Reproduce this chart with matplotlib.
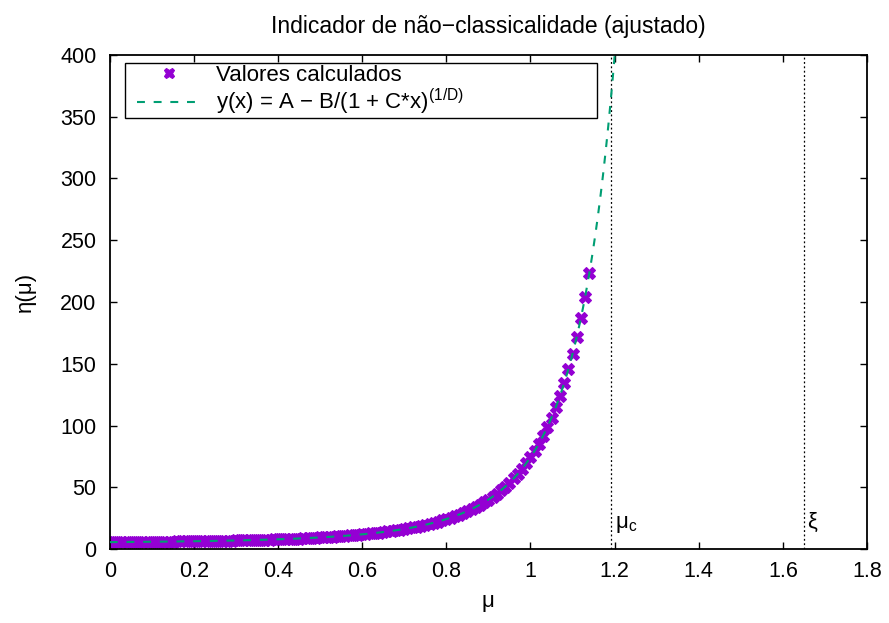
import numpy as np
import matplotlib.pyplot as plt
import matplotlib.patches as patches

plt.rcParams['font.family'] = ['Liberation Sans', 'DejaVu Sans']
plt.rcParams['mathtext.fontset'] = 'custom'
plt.rcParams['mathtext.rm'] = 'Liberation Sans'
plt.rcParams['mathtext.it'] = 'Liberation Sans'

# calculated values, mu = 0.00 ... 1.14 (step 0.01)
mu = np.round(np.arange(0, 115) * 0.01, 2)
eta = [5.6, 5.6, 5.6, 5.6, 5.7, 5.7, 5.7, 5.8, 5.8, 5.8,
       5.9, 5.9, 5.9, 6.0, 6.0, 6.0, 6.1, 6.1, 6.2, 6.2,
       6.3, 6.3, 6.4, 6.4, 6.5, 6.6, 6.6, 6.7, 6.8, 6.8,
       6.9, 7.0, 7.1, 7.1, 7.2, 7.3, 7.4, 7.5, 7.6, 7.7,
       7.9, 8.0, 8.1, 8.2, 8.4, 8.5, 8.7, 8.8, 9.0, 9.2,
       9.4, 9.6, 9.8, 10.0, 10.2, 10.5, 10.7, 11.0, 11.3, 11.6,
       11.9, 12.2, 12.6, 12.9, 13.3, 13.7, 14.2, 14.7, 15.1, 15.7,
       16.2, 16.8, 17.5, 18.1, 18.8, 19.6, 20.4, 21.3, 22.2, 23.2,
       24.2, 25.4, 26.6, 27.9, 29.2, 30.7, 32.3, 34.1, 35.9, 37.9,
       40.0, 42.4, 44.9, 47.6, 50.5, 53.7, 57.1, 60.9, 65.0, 69.4,
       74.3, 79.6, 85.3, 91.7, 98.6, 106.2, 114.6, 123.9, 134.1, 145.4,
       157.8, 171.7, 187.1, 204.2, 223.3]

# fit parameters for y(x) = A - B/(1 + C*x)^(1/D)
A = 4.7402
B = -0.8285
C = -0.6026
D = 0.2083

mu_c = 1.191
xi = 1.651

fig = plt.figure(figsize=(8.89, 6.23), dpi=100)
ax = fig.add_axes([109.8 / 889, 1 - 549 / 623, 757.2 / 889, 494 / 623])

# fitted curve
xf = np.linspace(0, 1.8, 2000)
base = 1 + C * xf
yf = np.full_like(xf, np.nan)
ok = base > 0
yf[ok] = A - B / base[ok] ** (1 / D)
ax.plot(xf, yf, color='#009e73', lw=1.5, dashes=(3.8, 4.2), zorder=3,
        label=r'y(x) = A − B/(1 + C*x)$^{\mathrm{(1/D)}}$')

ax.plot(mu, eta, 'X', color='#9400d3', ms=8.5, mew=0.8, mec='#9400d3', zorder=2,
        label='Valores calculados')

ax.axvline(mu_c, color='black', lw=0.9, ls=(0, (1.5, 2)), zorder=1)
ax.axvline(xi, color='black', lw=0.9, ls=(0, (1.5, 2)), zorder=1)
ax.text(mu_c + 0.009, 17, r'$\mathregular{μ_c}$', fontsize=16, ha='left', va='baseline')
ax.text(xi + 0.007, 17, 'ξ', fontsize=16, ha='left', va='baseline')

ax.set_xlim(0, 1.8)
ax.set_ylim(0, 400)
ax.set_xticks(np.arange(0, 1.81, 0.2))
ax.set_xticklabels(['0', '0.2', '0.4', '0.6', '0.8', '1', '1.2', '1.4', '1.6', '1.8'])
ax.set_yticks(np.arange(0, 401, 50))
ax.tick_params(direction='in', length=5, width=1, labelsize=15.5, top=True, right=True)
ax.tick_params(axis='x', pad=8.5)
ax.tick_params(axis='y', pad=9.5)
for s in ax.spines.values():
    s.set_linewidth(1.3)

ax.set_title('Indicador de não−classicalidade (ajustado)', fontsize=16.5, pad=15.8)
ax.set_xlabel('μ', fontsize=16)
ax.set_ylabel('η(μ)', fontsize=16)
ax.xaxis.set_label_coords(0.5, -0.085)
ax.yaxis.set_label_coords(-0.097, 0.52)

# legend box like gnuplot's key
ax.add_patch(patches.Rectangle((0.0201, 0.873), 0.623, 0.110, transform=ax.transAxes,
                               facecolor='white', edgecolor='black', lw=1.0, zorder=4))
h, l = ax.get_legend_handles_labels()
leg = ax.legend(h[::-1], l[::-1], loc='upper left', bbox_to_anchor=(0.0355, 0.980),
                fontsize=16, frameon=False, borderaxespad=0, borderpad=0,
                handlelength=2.93, handletextpad=0.65, labelspacing=0.05, numpoints=1,
                markerscale=0.85)
leg.set_zorder(5)

fig.savefig('out.png', dpi=100)
